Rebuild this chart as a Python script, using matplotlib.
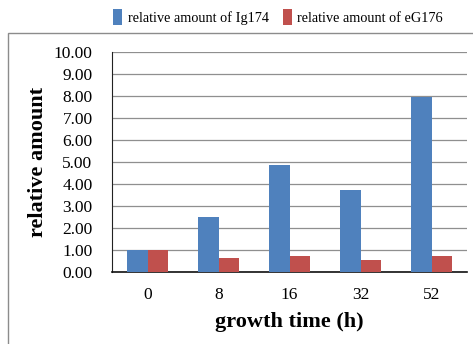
import numpy as np
import matplotlib.pyplot as plt
from matplotlib.patches import Rectangle

plt.rcParams['font.family'] = ['Liberation Serif', 'DejaVu Serif']

times = ['0', '8', '16', '32', '52']
ig174 = [1.00, 2.52, 4.85, 3.72, 7.95]
eg176 = [1.00, 0.62, 0.72, 0.55, 0.75]

W, H = 473, 344
fig = plt.figure(figsize=(W / 100, H / 100), dpi=100)
# outer frame
fig.patches.append(Rectangle((8 / W, -0.01), 1.0, 1 - 33 / H + 0.01, transform=fig.transFigure,
                             fill=False, edgecolor='#8c8c8c', linewidth=1.0))

ax = fig.add_axes([112 / W, 1 - 272 / H, (467 - 112) / W, (272 - 52) / H])
x = np.arange(len(times))
w = 0.285
ax.bar(x - w / 2, ig174, w, color='#4F81BD', label='relative amount of Ig174', zorder=3)
ax.bar(x + w / 2, eg176, w, color='#C0504D', label='relative amount of eG176', zorder=3)

ax.set_xlim(-0.5, len(times) - 0.5)
ax.set_ylim(0, 10)
ax.set_yticks(np.arange(0, 10.01, 1))
ax.set_yticklabels(['%.2f' % v for v in np.arange(0, 10.01, 1)], fontsize=12.5)
ax.set_xticks(x)
ax.set_xticklabels(times, fontsize=12.5)
ax.tick_params(axis='y', length=0, pad=14)
ax.tick_params(axis='x', length=0, pad=11)
ax.grid(axis='y', color='#8f8f8f', linewidth=0.9, zorder=0)
for s in ['top', 'right']:
    ax.spines[s].set_visible(False)
ax.spines['left'].set_color('#222222')
ax.spines['bottom'].set_color('#111111')
ax.spines['bottom'].set_linewidth(1.2)

ax.set_xlabel('growth time (h)', fontsize=16, fontweight='bold', labelpad=6)
ax.set_ylabel('relative amount', fontsize=16, fontweight='bold', labelpad=4)

fig.legend(loc='center', bbox_to_anchor=(0.588, 1 - 17 / H), ncol=2, frameon=False,
           fontsize=10.3, handlelength=0.6, handleheight=1.3, handletextpad=0.4,
           columnspacing=1.0)

fig.savefig('out.png', dpi=100)
